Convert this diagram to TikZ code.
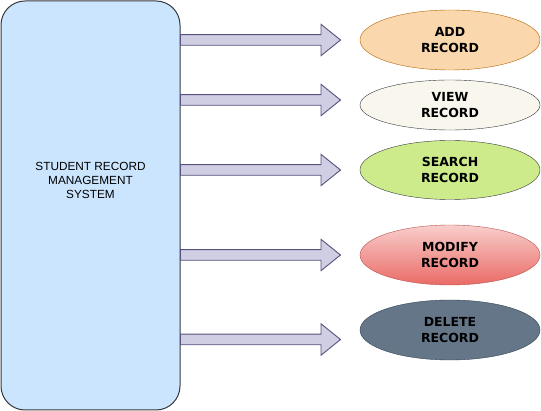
\documentclass[tikz,border=0pt]{standalone}
\usepackage{fontspec}
\setmainfont{Liberation Sans}
\newfontfamily\ovalfont{DejaVu Sans}
\usepackage{tikz}
\usetikzlibrary{shapes.geometric}
\definecolor{sysfill}{HTML}{CCE5FF}
\definecolor{sysline}{HTML}{36393D}
\definecolor{arrfill}{HTML}{D0CEE2}
\definecolor{arrline}{HTML}{56517E}
\definecolor{addfill}{HTML}{FAD7AC}
\definecolor{addline}{HTML}{B46504}
\definecolor{viewfill}{HTML}{F9F7ED}
\definecolor{searchfill}{HTML}{CDEB8B}
\definecolor{modtop}{HTML}{F8CECC}
\definecolor{modbot}{HTML}{EA6B66}
\definecolor{modline}{HTML}{B85450}
\definecolor{delfill}{HTML}{647687}
\definecolor{delline}{HTML}{314354}
\tikzset{
  oval/.style={shape=ellipse,inner sep=0pt,minimum width=180pt,align=center,
    font=\ovalfont\bfseries\fontsize{12.5}{16}\selectfont},
  blockarrow/.style={draw=arrline,fill=arrfill,line width=0.9pt,line join=miter}
}
\begin{document}
\begin{tikzpicture}[x=1pt,y=-1pt]
\useasboundingbox (0,0) rectangle (541,411);
\node[draw=sysline,fill=sysfill,line width=1pt,rounded corners=24pt,minimum width=179pt,minimum height=409pt,inner sep=0pt] (sys) at (90.5,205.5) {};
\node[align=center,font=\fontsize{11.8}{14}\selectfont] (systext) at (90.5,180) {STUDENT RECORD\\MANAGEMENT\\SYSTEM};
\node[oval,draw=addline,fill=addfill,minimum height=60pt] (add) at (450,40) {ADD\\RECORD};
\node[oval,draw=sysline,fill=viewfill,minimum height=50pt] (view) at (450,105) {VIEW\\RECORD};
\node[oval,draw=sysline,fill=searchfill,minimum height=59pt] (search) at (450,170) {SEARCH\\RECORD};
\node[oval,draw=modline,top color=modtop,bottom color=modbot,minimum height=60pt] (modify) at (450,255) {MODIFY\\RECORD};
\node[oval,draw=delline,fill=delfill,minimum height=60pt] (delete) at (450,330) {DELETE\\RECORD};
\foreach \y in {40,100,170,255,339.5}
  \draw[blockarrow] (sys.east |- 0,\y) ++(0,-5.3) -- ++(140.5,0) -- ++(0,-10.4) -- ++(19.5,15.7)
    -- ++(-19.5,15.7) -- ++(0,-10.4) -- ++(-140.5,0) -- cycle;
\end{tikzpicture}
\end{document}
